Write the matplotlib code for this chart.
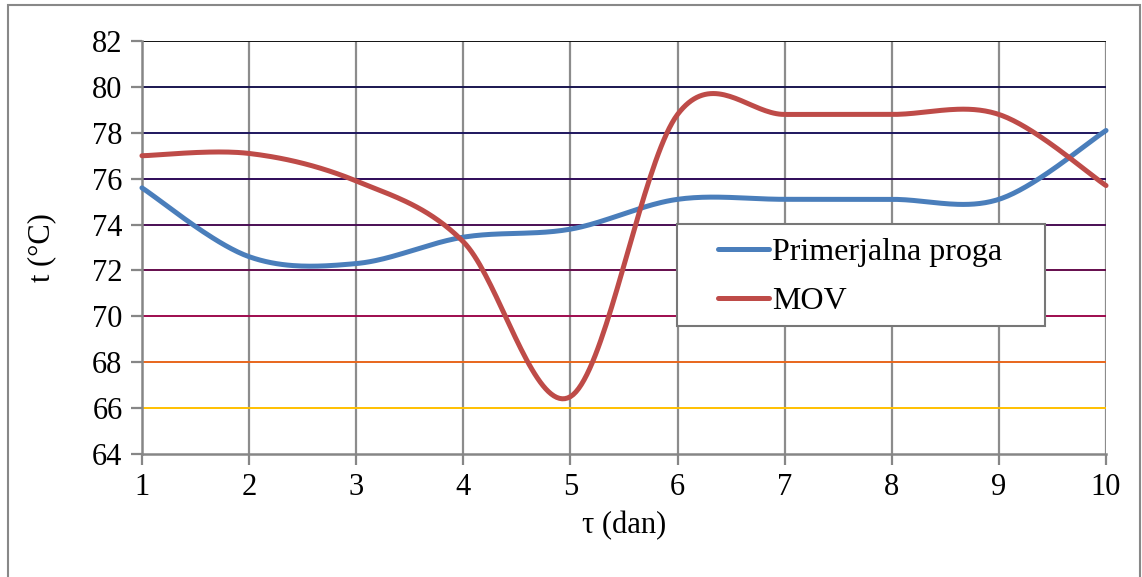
import numpy as np
import matplotlib.pyplot as plt
from matplotlib.patches import Rectangle
from matplotlib.lines import Line2D

# measured temperatures per day
days = [1, 2, 3, 4, 5, 6, 7, 8, 9, 10]
primerjalna = [75.6, 72.6, 72.3, 73.45, 73.8, 75.1, 75.1, 75.1, 75.1, 78.1]
mov = [77.0, 77.1, 75.9, 73.25, 66.5, 78.8, 78.8, 78.8, 78.8, 75.7]

y_ticks = [64, 66, 68, 70, 72, 74, 76, 78, 80, 82]
grid_colors = {66: '#ffc000', 68: '#e8661c', 70: '#9e0b4e', 72: '#640c4c',
               74: '#4a0e54', 76: '#2e0a58', 78: '#1e165e', 80: '#1a1650',
               82: '#111111'}

plt.rcParams['font.family'] = ['Liberation Serif', 'DejaVu Serif']


def smooth(x, y, n=40):
    # Catmull-Rom style cubic Bezier through the points
    x = np.asarray(x, float)
    y = np.asarray(y, float)
    px = np.concatenate([[x[0]], x, [x[-1]]])
    py = np.concatenate([[y[0]], y, [y[-1]]])
    xs, ys = [], []
    t = np.linspace(0, 1, n)
    for i in range(1, len(px) - 2):
        p0 = np.array([px[i], py[i]])
        p3 = np.array([px[i + 1], py[i + 1]])
        c1 = p0 + (np.array([px[i + 1], py[i + 1]]) - np.array([px[i - 1], py[i - 1]])) / 6
        c2 = p3 - (np.array([px[i + 2], py[i + 2]]) - np.array([px[i], py[i]])) / 6
        pts = ((1 - t) ** 3)[:, None] * p0 + (3 * (1 - t) ** 2 * t)[:, None] * c1 \
            + (3 * (1 - t) * t ** 2)[:, None] * c2 + (t ** 3)[:, None] * p3
        xs.extend(pts[:, 0])
        ys.extend(pts[:, 1])
    return np.array(xs), np.array(ys)


fig = plt.figure(figsize=(11.42, 5.77), dpi=100)
ax = fig.add_axes([0.1243, 0.2132, 0.8442, 0.7157])

# outer chart border
fig.patches.append(Rectangle((8 / 1142, -0.05), 1132 / 1142, 1 - 5 / 577 + 0.05,
                             transform=fig.transFigure, fill=False,
                             edgecolor='#888888', linewidth=1.5))

ax.set_xlim(1, 10)
ax.set_ylim(64, 82)
ax.set_xticks(days)
ax.set_yticks(y_ticks)

for d in days[1:]:
    ax.axvline(d, color='#8c8c8c', lw=1.6, zorder=1)
for yv, c in grid_colors.items():
    ax.axhline(yv, color=c, lw=1.4, zorder=1.5)

gray = '#868686'
for s in ['top', 'right']:
    ax.spines[s].set_visible(False)
for s in ['left', 'bottom']:
    ax.spines[s].set_color(gray)
    ax.spines[s].set_linewidth(1.8)
ax.tick_params(axis='both', colors=gray, width=1.6, length=8,
               labelcolor='black', labelsize=22, pad=6)

bx, by = smooth(days, primerjalna)
rx, ry = smooth(days, mov)
ax.plot(bx, by, color='#4a7ebb', lw=3.6, solid_capstyle='round', zorder=3, clip_on=False)
ax.plot(rx, ry, color='#be4b48', lw=3.6, solid_capstyle='round', zorder=3, clip_on=False)

ax.set_ylabel('t (°C)', fontsize=22, labelpad=26)
ax.set_xlabel('τ (dan)', fontsize=22, labelpad=6)

# legend box drawn by hand, entries placed inside it
pw, ph = 964, 413
box = Rectangle(((677 - 142) / pw, (454 - 326) / ph), (1045 - 677) / pw, (326 - 224) / ph,
                transform=ax.transAxes, facecolor='white', edgecolor='#777777',
                linewidth=1.5, zorder=5)
ax.add_patch(box)

handles = [Line2D([], [], color='#4a7ebb', lw=3.6, solid_capstyle='round'),
           Line2D([], [], color='#be4b48', lw=3.6, solid_capstyle='round')]
leg = ax.legend(handles, ['Primerjalna proga', 'MOV'], fontsize=23,
                loc='upper left', bbox_to_anchor=((718 - 142) / pw, (454 - 238) / ph),
                frameon=False, handlelength=1.6, handletextpad=0.1, borderpad=0,
                labelspacing=0.6, borderaxespad=0)
leg.set_zorder(6)

fig.savefig('out.png', dpi=100)
